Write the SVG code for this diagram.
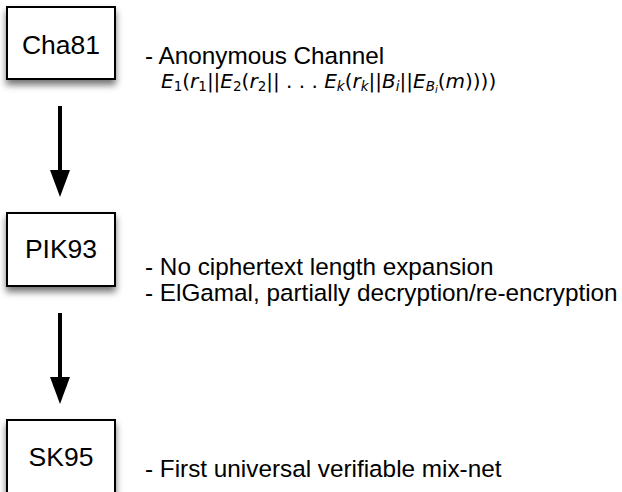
<svg xmlns="http://www.w3.org/2000/svg" width="622" height="492" viewBox="0 0 622 492">
  <style>
    .box { fill: #ffffff; stroke: #000000; stroke-width: 2; filter: url(#shadow); }
    .lbl { font-family: "Liberation Sans", Arial, sans-serif; font-size: 26.5px; fill: #000; text-anchor: middle; }
    .note { font-family: "Liberation Sans", Arial, sans-serif; font-size: 24.3px; fill: #000; }
    .math { font-family: "DejaVu Sans", "Liberation Sans", sans-serif; font-size: 20px; fill: #000; }
    .it { font-style: italic; }
    .sub { font-size: 13.5px; }
    .sub2 { font-size: 10px; }
    .conn { stroke: #000; stroke-width: 4; fill: none; marker-end: url(#arrow); }
  </style>
  <defs>
    <filter id="shadow" x="-20%" y="-20%" width="140%" height="150%">
      <feDropShadow dx="0" dy="5" stdDeviation="3.5" flood-color="#000" flood-opacity="0.55"/>
    </filter>
    <marker id="arrow" markerUnits="userSpaceOnUse" markerWidth="28" markerHeight="20" refX="0" refY="10" orient="auto" viewBox="0 0 28 20">
      <path d="M0,0 L27,10 L0,20 Z" fill="#000"/>
    </marker>
  </defs>

  <rect width="622" height="492" fill="#fff"/>

  <g id="connectors">
    <path class="conn" d="M60,106 V170"/>
    <path class="conn" d="M60,313 V377"/>
  </g>

  <g id="cha81">
    <rect class="box" x="7" y="7" width="108" height="72"/>
    <text class="lbl" x="61" y="54">Cha81</text>
  </g>
  <g id="cha81-note">
    <text class="note" x="145" y="64">- Anonymous Channel</text>
    <text class="math" x="161" y="88"><tspan class="it">E</tspan><tspan class="sub" dy="3">1</tspan><tspan dy="-3">(</tspan><tspan class="it">r</tspan><tspan class="sub" dy="3">1</tspan><tspan dy="-3">||</tspan><tspan class="it">E</tspan><tspan class="sub" dy="3">2</tspan><tspan dy="-3">(</tspan><tspan class="it">r</tspan><tspan class="sub" dy="3">2</tspan><tspan dy="-3">|| . . . </tspan><tspan class="it">E</tspan><tspan class="it sub" dy="3">k</tspan><tspan dy="-3">(</tspan><tspan class="it">r</tspan><tspan class="it sub" dy="3">k</tspan><tspan dy="-3">||</tspan><tspan class="it">B</tspan><tspan class="it sub" dy="3">i</tspan><tspan dy="-3">||</tspan><tspan class="it">E</tspan><tspan class="it sub" dy="3">B</tspan><tspan class="it sub2" dy="2">i</tspan><tspan dy="-5">(</tspan><tspan class="it">m</tspan><tspan>))))</tspan></text>
  </g>

  <g id="pik93">
    <rect class="box" x="7" y="213" width="108" height="73"/>
    <text class="lbl" x="61" y="258">PIK93</text>
  </g>
  <g id="pik93-note">
    <text class="note" x="145" y="275">- No ciphertext length expansion</text>
    <text class="note" x="145" y="301">- ElGamal, partially decryption/re-encryption</text>
  </g>

  <g id="sk95">
    <rect class="box" x="7" y="420" width="108" height="74"/>
    <text class="lbl" x="61" y="466">SK95</text>
  </g>
  <g id="sk95-note">
    <text class="note" x="145" y="477">- First universal verifiable mix-net</text>
  </g>
</svg>
